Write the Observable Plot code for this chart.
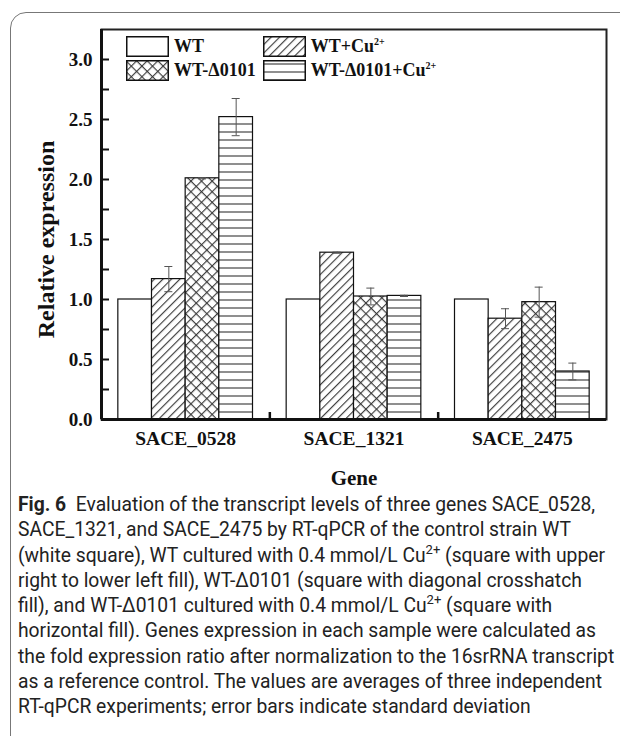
<!DOCTYPE html>
<html><head><meta charset="utf-8">
<script src="https://cdn.jsdelivr.net/npm/d3@7"></script>
<script src="https://cdn.jsdelivr.net/npm/@observablehq/plot@0.6"></script>
<style>
body{margin:0;background:#fff;width:620px;height:736px;overflow:hidden;position:relative;}
#box{position:absolute;left:10px;top:12px;width:650px;height:745px;border:1.5px solid #777;border-radius:16px;box-sizing:border-box;}
#chart{position:absolute;left:0;top:0;}
#defs{position:absolute;left:0;top:0;width:0;height:0;}
#legend{position:absolute;left:126px;top:36px;font-family:"Liberation Serif",serif;font-weight:bold;font-size:18px;color:#111;display:grid;grid-template-columns:auto auto;column-gap:7px;row-gap:3px}
.item{display:flex;align-items:center;gap:5px;height:21px;white-space:nowrap}
.item svg{display:block}
.item sup{font-size:10px;vertical-align:7px;line-height:0}
#caption{position:absolute;left:18px;top:492px;font-family:Roboto,sans-serif;font-size:19.3px;line-height:25.3px;color:#222;white-space:nowrap}
#caption sup{font-size:13px;vertical-align:8px;line-height:0}
</style>
</head><body>
<div id="box"></div>
<svg id="defs" width="0" height="0">
<defs>
<pattern id="pDiag" patternUnits="userSpaceOnUse" width="6" height="6" patternTransform="rotate(45)"><rect width="6" height="6" fill="white"/><line x1="0.6" y1="0" x2="0.6" y2="6" stroke="#333" stroke-width="1.1"/></pattern>
<pattern id="pCross" patternUnits="userSpaceOnUse" width="7.5" height="7.5" patternTransform="rotate(45)"><rect width="7.5" height="7.5" fill="white"/><line x1="0.6" y1="0" x2="0.6" y2="7.5" stroke="#333" stroke-width="1.1"/><line x1="0" y1="0.6" x2="7.5" y2="0.6" stroke="#333" stroke-width="1.1"/></pattern>
<pattern id="pHoriz" patternUnits="userSpaceOnUse" width="8" height="8"><rect width="8" height="8" fill="white"/><line x1="0" y1="4" x2="8" y2="4" stroke="#333" stroke-width="1.1"/></pattern>
</defs>
</svg>
<div id="chart"></div>
<div id="legend"></div>
<div id="caption"></div>
<script>
const genes = ["SACE_0528", "SACE_1321", "SACE_2475"];
const seriesNames = ["WT", "WT+Cu<sup>2+</sup>", "WT-Δ0101", "WT-Δ0101+Cu<sup>2+</sup>"];
const wtValues = [1.00, 1.00, 1.00];
const wtCuValues = [1.17, 1.39, 0.84];
const delValues = [2.01, 1.025, 0.978];
const delCuValues = [2.52, 1.03, 0.40];
const wtErr = [0, 0, 0];
const wtCuErr = [0.105, 0.005, 0.083];
const delErr = [0.005, 0.07, 0.125];
const delCuErr = [0.155, 0.005, 0.07];
const yTicks = [0, 0.5, 1.0, 1.5, 2.0, 2.5, 3.0];
const yMinorTicks = [0, 0.25, 0.5, 0.75, 1.0, 1.25, 1.5, 1.75, 2.0, 2.25, 2.5, 2.75, 3.0];
const groupBoundaries = [0.5, 1.5];

const fills = ["white", "url(#pDiag)", "url(#pCross)", "url(#pHoriz)"];
const allValues = [wtValues, wtCuValues, delValues, delCuValues];
const allErr = [wtErr, wtCuErr, delErr, delCuErr];

const rows = [];
allValues.forEach((vals, s) => vals.forEach((v, g) => rows.push({gene: genes[g], g, s, value: v, err: allErr[s][g]})));
const left = r => r.g - 0.4 + r.s * 0.2;
const right = r => r.g - 0.2 + r.s * 0.2;
const center = r => r.g - 0.3 + r.s * 0.2;
const errRows = rows.filter(r => r.err > 0);

const barMarks = fills.map((f, s) => Plot.rectY(rows.filter(r => r.s === s), {
  x1: left, x2: right, y: "value", fill: f, stroke: "#111", strokeWidth: 1.2
}));

const plot = Plot.plot({
  width: 620, height: 500,
  marginLeft: 101, marginRight: 14, marginTop: 29, marginBottom: 81,
  x: {domain: [-0.5, 2.5], axis: null},
  y: {domain: [0, 3.25], axis: null},
  style: {fontFamily: "'Liberation Serif', serif", fontWeight: "bold", color: "#111", background: "transparent"},
  marks: [
    ...barMarks,
    Plot.ruleX(errRows, {x: center, y1: r => r.value - r.err, y2: r => r.value + r.err, stroke: "#555", strokeWidth: 1}),
    Plot.ruleY(errRows, {y: r => r.value + r.err, x1: center, x2: center, insetLeft: -4, insetRight: -4, stroke: "#555", strokeWidth: 1}),
    Plot.ruleY(errRows, {y: r => r.value - r.err, x1: center, x2: center, insetLeft: -4, insetRight: -4, stroke: "#555", strokeWidth: 1}),
    Plot.frame({stroke: "#222", strokeWidth: 2}),
    Plot.ruleX([-0.5], {stroke: "#111", strokeWidth: 3}),
    Plot.ruleY([0], {stroke: "#111", strokeWidth: 3}),
    Plot.ruleY(yMinorTicks, {x1: -0.5, x2: -0.5, insetRight: -8, stroke: "#111", strokeWidth: 2}),
    Plot.ruleX(groupBoundaries, {y1: 0, y2: 0, insetTop: -7, stroke: "#111", strokeWidth: 2.5}),
    Plot.text(yTicks, {x: -0.5, y: d => d, text: d => d3.format(".1f")(d), textAnchor: "end", dx: -9, fontSize: 19, fill: "#111"}),
    Plot.text(genes, {x: (d, i) => i, y: 0, text: d => d, dy: 19, fontSize: 19.5, fill: "#111"}),
    Plot.text(["Gene"], {frameAnchor: "bottom", text: d => d, lineAnchor: "middle", dy: 59, fontSize: 21, fill: "#111"}),
    Plot.text(["Relative expression"], {frameAnchor: "left", text: d => d, textAnchor: "middle", rotate: -90, dx: -55, dy: 15, fontSize: 24, fill: "#111"})
  ]
});
document.getElementById("chart").appendChild(plot);

// legend
const legend = document.getElementById("legend");
[0, 1, 2, 3].forEach(s => {
  const item = document.createElement("div");
  item.className = "item";
  item.innerHTML = `<svg width="43" height="21"><rect x="0.75" y="0.75" width="41.5" height="19.5" fill="${fills[s]}" stroke="#111" stroke-width="1.5"/></svg><span>${seriesNames[s]}</span>`;
  legend.appendChild(item);
});

const captionLines = [
  "<b>Fig. 6</b>&nbsp; Evaluation of the transcript levels of three genes SACE_0528,",
  "SACE_1321, and SACE_2475 by RT-qPCR of the control strain WT",
  "(white square), WT cultured with 0.4 mmol/L Cu<sup>2+</sup> (square with upper",
  "right to lower left fill), WT-Δ0101 (square with diagonal crosshatch",
  "fill), and WT-Δ0101 cultured with 0.4 mmol/L Cu<sup>2+</sup> (square with",
  "horizontal fill). Genes expression in each sample were calculated as",
  "the fold expression ratio after normalization to the 16srRNA transcript",
  "as a reference control. The values are averages of three independent",
  "RT-qPCR experiments; error bars indicate standard deviation"
];
document.getElementById("caption").innerHTML = captionLines.map(l => `<div>${l}</div>`).join("");
</script>
</body></html>
